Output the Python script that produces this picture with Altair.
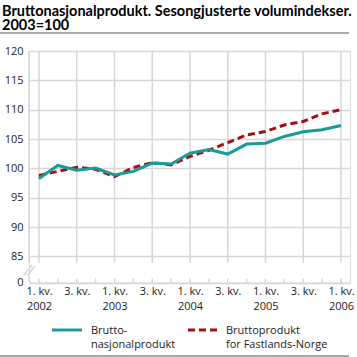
import json
import altair as alt
import pandas as pd

# ---- data ----
quarter_idx = list(range(17))  # 1. kv. 2002 ... 1. kv. 2006
bnp = [98.3, 100.5, 99.7, 100.05, 98.9, 99.5, 100.9, 100.75, 102.6, 103.2,
       102.45, 104.15, 104.3, 105.45, 106.25, 106.6, 107.3]
fastland = [98.8, 99.5, 100.2, 99.85, 98.6, 100.15, 101.0, 100.6, 102.05, 103.1,
            104.4, 105.7, 106.3, 107.4, 108.0, 109.3, 110.0]
series_names = ["Bruttonasjonalprodukt", "Bruttoprodukt for Fastlands-Norge"]
legend_labels = ["Brutto-\nnasjonalprodukt", "Bruttoprodukt\nfor Fastlands-Norge"]
x_tick_values = [0, 2, 4, 6, 8, 10, 12, 14, 16]
x_tick_labels = [["1. kv.", "2002"], ["3. kv."], ["1. kv.", "2003"], ["3. kv."],
                 ["1. kv.", "2004"], ["3. kv."], ["1. kv.", "2005"], ["3. kv."],
                 ["1. kv.", "2006"]]
Y_BREAK = 80.57  # bottom of the broken axis, labelled 0
y_tick_values = [Y_BREAK, 85, 90, 95, 100, 105, 110, 115, 120]
y_tick_labels = ["0", "85", "90", "95", "100", "105", "110", "115", "120"]
title_lines = "Bruttonasjonalprodukt. Sesongjusterte volumindekser.\n2003=100"

TEAL = "#1a9a98"
RED = "#a50f15"
GRID = "#d6d6d6"
FONT = "Open Sans"

W, H = 321, 231.5

df = pd.DataFrame({
    "idx": quarter_idx * 2,
    "value": bnp + fastland,
    "series": [series_names[0]] * 17 + [series_names[1]] * 17,
})

xscale = alt.Scale(domain=[-0.5298, 16.477], nice=False, zero=False)
yscale = alt.Scale(domain=[Y_BREAK, 120], nice=False, zero=False)

x_label_expr = f"{json.dumps(x_tick_labels)}[indexof({json.dumps(x_tick_values)}, datum.value)]"
y_label_expr = f"{json.dumps(y_tick_labels)}[indexof({json.dumps(y_tick_values)}, datum.value)]"

base = alt.Chart(df)

# axes layer (invisible points just to carry axes)
axes = base.mark_point(opacity=0).encode(
    x=alt.X("idx:Q", scale=xscale,
            axis=alt.Axis(values=x_tick_values, tickCount=30, labelExpr=x_label_expr,
                          title=None, domain=False, ticks=False, grid=False,
                          labelFont=FONT, labelFontSize=11, labelColor="#222",
                          labelPadding=3, labelLineHeight=15, labelOverlap=False,
                          labelFlush=False)),
    y=alt.Y("value:Q", scale=yscale,
            axis=alt.Axis(values=y_tick_values, tickCount=30, labelExpr=y_label_expr,
                          title=None, domain=False, ticks=False, grid=True,
                          gridColor=GRID, gridWidth=1.5, labelFont=FONT,
                          labelFontSize=11, labelColor="#222", labelPadding=6,
                          labelOverlap=False, labelFlush=False)),
)

# vertical gridlines at 1. kv. and 3. kv.
vgrid = alt.Chart(pd.DataFrame({"idx": x_tick_values})).mark_rule(
    color=GRID, strokeWidth=1.5).encode(
    x=alt.X("idx:Q", scale=xscale), y=alt.value(0), y2=alt.value(212))

# small ticks on x axis for every quarter
xticks = alt.Chart(pd.DataFrame({"idx": quarter_idx})).mark_rule(
    color=GRID, strokeWidth=1.5).encode(
    x=alt.X("idx:Q", scale=xscale), y=alt.value(H - 4), y2=alt.value(H))

# y axis line with break
yaxis_top = alt.Chart(pd.DataFrame({"a": [0]})).mark_rule(color=GRID, strokeWidth=1.5).encode(
    x=alt.value(0), y=alt.value(0), y2=alt.value(211))
yaxis_bot = alt.Chart(pd.DataFrame({"a": [0]})).mark_rule(color=GRID, strokeWidth=1.5).encode(
    x=alt.value(0), y=alt.value(226), y2=alt.value(H))
brk1 = alt.Chart(pd.DataFrame({"a": [0]})).mark_rule(color=GRID, strokeWidth=1.5).encode(
    x=alt.value(-5), x2=alt.value(3), y=alt.value(224), y2=alt.value(214))
brk2 = alt.Chart(pd.DataFrame({"a": [0]})).mark_rule(color=GRID, strokeWidth=1.5).encode(
    x=alt.value(-2), x2=alt.value(6), y=alt.value(225), y2=alt.value(215))

line_fast = base.transform_filter(alt.datum.series == series_names[1]).mark_line(
    color=RED, strokeWidth=3, strokeDash=[7, 4]).encode(
    x=alt.X("idx:Q", scale=xscale), y=alt.Y("value:Q", scale=yscale))
line_bnp = base.transform_filter(alt.datum.series == series_names[0]).mark_line(
    color=TEAL, strokeWidth=3).encode(
    x=alt.X("idx:Q", scale=xscale), y=alt.Y("value:Q", scale=yscale))

# title
title = alt.Chart(pd.DataFrame({"t": [title_lines]})).mark_text(
    align="left", baseline="alphabetic", font="Lato", fontSize=14.5, fontWeight="bold",
    lineBreak="\n", lineHeight=14.5, color="#000").encode(
    x=alt.value(-27), y=alt.value(-35.5), text="t:N")

# separator rules
rule_top = alt.Chart(pd.DataFrame({"a": [0]})).mark_rule(color="#8c8c8c", strokeWidth=1.5).encode(
    x=alt.value(-29), x2=alt.value(320), y=alt.value(-18))
rule_bot = alt.Chart(pd.DataFrame({"a": [0]})).mark_rule(color="#8c8c8c", strokeWidth=1.5).encode(
    x=alt.value(-29), x2=alt.value(320), y=alt.value(305))

# legend
leg_sym1 = alt.Chart(pd.DataFrame({"a": [0]})).mark_rule(color=TEAL, strokeWidth=3).encode(
    x=alt.value(23), x2=alt.value(53), y=alt.value(279))
leg_sym2 = alt.Chart(pd.DataFrame({"a": [0]})).mark_rule(
    color=RED, strokeWidth=3, strokeDash=[7, 4]).encode(
    x=alt.value(159), x2=alt.value(191), y=alt.value(279))
leg_txt1 = alt.Chart(pd.DataFrame({"t": [legend_labels[0]]})).mark_text(
    align="left", baseline="alphabetic", font=FONT, fontSize=11, lineBreak="\n",
    lineHeight=14, color="#222").encode(x=alt.value(62), y=alt.value(283), text="t:N")
leg_txt2 = alt.Chart(pd.DataFrame({"t": [legend_labels[1]]})).mark_text(
    align="left", baseline="alphabetic", font=FONT, fontSize=11, lineBreak="\n",
    lineHeight=14, color="#222").encode(x=alt.value(197), y=alt.value(283), text="t:N")

chart = alt.layer(
    axes, vgrid, xticks, yaxis_top, yaxis_bot, brk1, brk2,
    line_fast, line_bnp, title, rule_top, rule_bot,
    leg_sym1, leg_sym2, leg_txt1, leg_txt2,
).properties(
    width=W, height=H,
    padding={"left": 29, "top": 51, "right": 7, "bottom": 357 - 51 - H},
    autosize=alt.AutoSizeParams(type="none"),
).configure_view(stroke=None).configure(background="white")

chart.save("out.html", embed_options={"renderer": "svg", "actions": False})
